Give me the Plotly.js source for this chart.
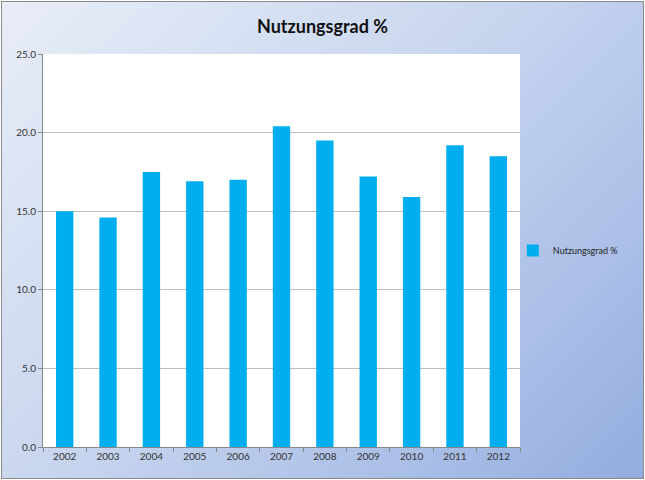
<!DOCTYPE html>
<html>
<head>
<meta charset="utf-8">
<script src="https://cdn.plot.ly/plotly-3.0.1.min.js"></script>
<style>
html,body{margin:0;padding:0;background:#fff;}
#wrap{position:absolute;left:1px;top:1px;width:641px;height:476px;border:1px solid #8a8a8a;
background:linear-gradient(135deg,#e8edf7 0%,#c9d6ef 45%,#a8bde6 80%,#93acdf 100%);}
#chart{position:absolute;left:-2px;top:-2px;width:645px;height:480px;}
</style>
</head>
<body>
<div id="wrap"><div id="chart"></div></div>
<script>
const years = ['2002','2003','2004','2005','2006','2007','2008','2009','2010','2011','2012'];
const values = [15.0,14.6,17.5,16.9,17.0,20.4,19.5,17.2,15.9,19.2,18.5];
const seriesName = 'Nutzungsgrad %';
const yTicks = [0,5,10,15,20,25];

const font = 'Lato, "Open Sans", sans-serif';
Plotly.newPlot('chart', [{
  type:'bar', x:years, y:values, name:seriesName,
  marker:{color:'#00aeef'}, showlegend:true
}], {
  width:645, height:480,
  paper_bgcolor:'rgba(0,0,0,0)', plot_bgcolor:'#ffffff',
  margin:{l:43,r:125,t:54,b:33,autoexpand:false},
  title:{text:'<b>Nutzungsgrad %</b>', x:0.5, xanchor:'center', y:0.945, yanchor:'middle',
    font:{family:font,size:18,color:'#111'}},
  bargap:0.6,
  xaxis:{type:'category', tickson:'boundaries', ticks:'outside', ticklen:4, tickcolor:'#888',
    showline:true, linecolor:'#888', linewidth:1, showgrid:false,
    tickfont:{family:font,size:10,color:'#333'}},
  yaxis:{range:[0,25], tickvals:yTicks, ticktext:yTicks.map(v=>v.toFixed(1)),
    ticks:'outside', ticklen:4, tickcolor:'#888', showline:true, linecolor:'#888', linewidth:1,
    showgrid:true, gridcolor:'#bdbdbd', gridwidth:1, zeroline:false,
    tickfont:{family:font,size:10,color:'#333'}},
  legend:{x:0.985, xanchor:'left', y:0.5, yanchor:'middle', bgcolor:'rgba(0,0,0,0)',
    font:{family:font,size:9,color:'#222'}, itemwidth:30}
}, {displayModeBar:false, staticPlot:true});
</script>
</body>
</html>
